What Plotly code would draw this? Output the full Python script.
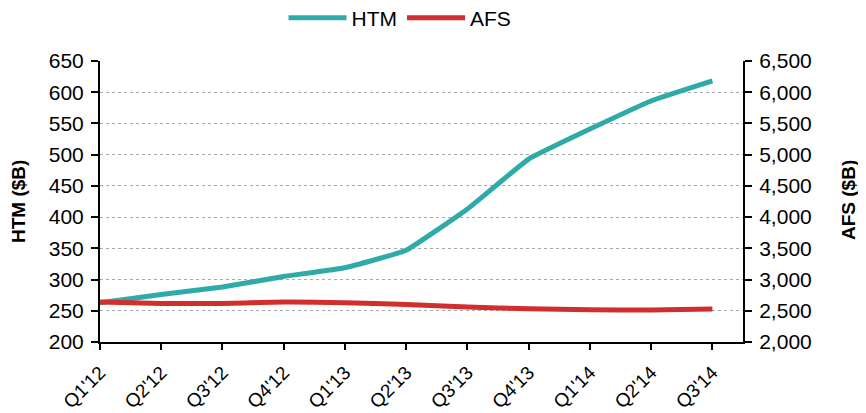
import plotly.graph_objects as go

quarters = ["Q1'12", "Q2'12", "Q3'12", "Q4'12", "Q1'13", "Q2'13",
            "Q3'13", "Q4'13", "Q1'14", "Q2'14", "Q3'14"]
htm = [263, 276, 288, 305, 319, 347, 413, 493, 541, 586, 618]
afs = [2640, 2618, 2618, 2640, 2630, 2602, 2560, 2532, 2516, 2511, 2527]

teal = "#2EABA8"
red = "#D12F2F"
font = "Liberation Sans, Arial, sans-serif"

# page body has an 8px margin, so the figure is drawn 8px in from the top-left
OFF = 8
W, H = 866 - OFF, 413 - OFF
L, T = 100 - OFF, 61 - OFF
R, B = W - (743 - OFF), H - (342 - OFF)
PW, PH = W - L - R, H - T - B


def px_x(x):
    return (x - OFF - L) / PW


def px_y(y):
    return (T + PH - (y - OFF)) / PH


fig = go.Figure()
fig.add_trace(go.Scatter(x=list(range(len(quarters))), y=htm, name="HTM", mode="lines",
                         line=dict(color=teal, width=5, shape="spline", smoothing=0.3),
                         yaxis="y"))
fig.add_trace(go.Scatter(x=list(range(len(quarters))), y=afs, name="AFS", mode="lines",
                         line=dict(color=red, width=5, shape="spline", smoothing=0.6),
                         yaxis="y2"))

fig.update_layout(
    width=W, height=H,
    margin=dict(l=L, r=R, t=T, b=B, autoexpand=False),
    paper_bgcolor="white", plot_bgcolor="white",
    font=dict(family=font, size=21, color="#000"),
    showlegend=True,
    legend=dict(orientation="h", x=px_x(400), xanchor="center",
                y=px_y(18), yanchor="middle",
                font=dict(size=21), itemwidth=58, bgcolor="rgba(0,0,0,0)"),
    xaxis=dict(
        tickmode="array", tickvals=list(range(len(quarters))), ticktext=quarters,
        range=[0, 10.5], tickangle=-45, ticks="outside", ticklen=6, tickwidth=1.5,
        tickcolor="#000", showline=True, linecolor="#000", linewidth=2,
        showgrid=False, zeroline=False, tickfont=dict(size=19), automargin=False,
        ticklabelstandoff=4,
    ),
    yaxis=dict(
        range=[200, 650], dtick=50, tick0=200, ticks="outside", ticklen=7, tickwidth=1.5,
        tickcolor="#000", showline=True, linecolor="#000", linewidth=2,
        showgrid=True, gridcolor="#a8a8a8", gridwidth=1, griddash="dot",
        zeroline=False, tickfont=dict(size=21), automargin=False,
        ticklabelstandoff=3,
    ),
    yaxis2=dict(
        range=[2000, 6500], dtick=500, tick0=2000, overlaying="y", side="right",
        ticks="outside", ticklen=7, tickwidth=1.5, tickcolor="#000",
        showline=True, linecolor="#000", linewidth=2, showgrid=False, zeroline=False,
        tickformat=",", tickfont=dict(size=21), automargin=False,
        ticklabelstandoff=3,
    ),
    annotations=[
        dict(text="<b>HTM ($B)</b>", xref="paper", yref="paper",
             x=px_x(18), y=px_y(201), textangle=-90,
             showarrow=False, font=dict(size=19), xanchor="center", yanchor="middle"),
        dict(text="<b>AFS ($B)</b>", xref="paper", yref="paper",
             x=px_x(848), y=px_y(200), textangle=-90,
             showarrow=False, font=dict(size=19), xanchor="center", yanchor="middle"),
    ],
    shapes=[dict(type="line", xref="paper", yref="paper", layer="above",
                 x0=px_x(863), x1=px_x(863), y0=px_y(412), y1=px_y(8),
                 line=dict(color="#000", width=1.5))],
)

fig.write_html("out.html")
